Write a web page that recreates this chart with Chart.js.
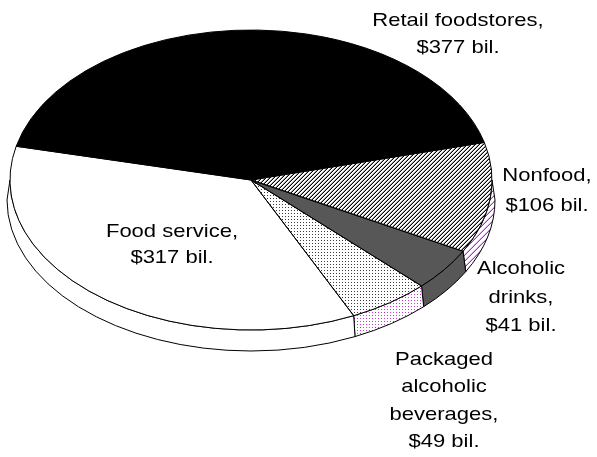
<!DOCTYPE html>
<html>
<head>
<meta charset="utf-8">
<script src="https://cdn.jsdelivr.net/npm/chart.js@4/dist/chart.umd.min.js"></script>
<style>
  html, body { margin: 0; padding: 0; background: #fff; overflow: hidden; }
  canvas { display: block; }
</style>
</head>
<body>
<canvas id="pie" width="597" height="457"></canvas>
<script>
// Food and beverage spending by outlet, $ billion
const categories = ['Retail foodstores', 'Nonfood', 'Alcoholic drinks', 'Packaged alcoholic beverages', 'Food service'];
const spending = [377, 106, 41, 49, 317];
// Label wording, one entry per line (value line is appended from the data)
const labelNames = [
  ['Retail foodstores,'],
  ['Nonfood,'],
  ['Alcoholic', 'drinks,'],
  ['Packaged', 'alcoholic', 'beverages,'],
  ['Food service,']
];

// Tilted-disc geometry (device pixels)
const FACE = { cx: 251, cy: 180, rx: 241, ry: 150 };
const SIDE = { dx: 0, dy: 20, grow: 3 };
// Label placement: centre x, first baseline y, line spacing
const LABEL_POS = [
  { x: 458, y: 25.5, lh: 27.5 },
  { x: 547, y: 180.5, lh: 30 },
  { x: 521, y: 274, lh: 28.7 },
  { x: 444, y: 365, lh: 27.4 },
  { x: 172, y: 236.5, lh: 26.8 }
];
const FONT = '18.5px "Liberation Sans", Arial, sans-serif';
const TEXT_STRETCH = 1.19;

// Pixel tiles: 'k' ink, 'g' soft ink, '.' paper
function tile(rows, ink, soft) {
  const h = rows.length, w = rows[0].length;
  const c = document.createElement('canvas');
  c.width = w; c.height = h;
  const g = c.getContext('2d');
  g.fillStyle = '#fff';
  g.fillRect(0, 0, w, h);
  rows.forEach((row, y) => {
    [...row].forEach((ch, x) => {
      if (ch === 'k') { g.fillStyle = ink; g.fillRect(x, y, 1, 1); }
      if (ch === 'g') { g.fillStyle = soft; g.fillRect(x, y, 1, 1); }
    });
  });
  return g.createPattern(c, 'repeat');
}

const topHatch = tile([
  '..gk',
  '.gk.',
  'gk..',
  'k..g'
], '#000', '#9a9a9a');
const topDots = tile([
  'k..',
  '...',
  '...'
], '#3c3c3c', '#000');
const sideHatch = tile([
  '....gk',
  '...gk.',
  '..gk..',
  '.gk...',
  'gk....',
  'k....g'
], '#a030c8', '#e0b8ee');
const sideDots = tile([
  'k..',
  '...',
  '...'
], '#c03cc8', '#000');

const facePatterns = [topHatch, topDots];
const faceFill = ['#000000', topHatch, '#575757', topDots, '#ffffff'];
const sideFill = ['#000000', sideHatch, '#575757', sideDots, '#ffffff'];

const tiltedPie = {
  id: 'tiltedPie',
  beforeDatasetsDraw(chart) {
    const ctx = chart.ctx;
    const arcs = chart.getDatasetMeta(0).data;
    const ref = arcs[0];
    const sx = FACE.rx / ref.outerRadius, sy = FACE.ry / ref.outerRadius;
    const bx = FACE.cx + SIDE.dx, by = FACE.cy + SIDE.dy;
    const brx = FACE.rx + SIDE.grow, bry = FACE.ry + 1;

    // rim of the disc: only the front half (screen angles 0..PI) is visible
    ctx.save();
    ctx.lineWidth = 1;
    ctx.strokeStyle = '#000';
    arcs.forEach((arc, i) => {
      for (let k = -1; k <= 1; k++) {
        const lo = Math.max(arc.startAngle, 2 * Math.PI * k);
        const hi = Math.min(arc.endAngle, 2 * Math.PI * k + Math.PI);
        if (hi <= lo) continue;
        ctx.beginPath();
        ctx.ellipse(FACE.cx, FACE.cy, FACE.rx, FACE.ry, 0, lo, hi);
        ctx.ellipse(bx, by, brx, bry, 0, hi, lo, true);
        ctx.closePath();
        ctx.fillStyle = sideFill[i];
        ctx.fill();
        ctx.stroke();
      }
    });
    ctx.restore();

    // squash the round pie into the tilted top face
    ctx.save();
    ctx.translate(FACE.cx, FACE.cy);
    ctx.scale(sx, sy);
    ctx.translate(-ref.x, -ref.y);
    // keep the fill textures aligned to the device pixel grid
    const inv = ctx.getTransform().inverse();
    facePatterns.forEach(p => p.setTransform(inv));
  },
  afterDatasetsDraw(chart) {
    const ctx = chart.ctx;
    ctx.restore();
    const arcs = chart.getDatasetMeta(0).data;

    // slice outlines on the top face
    ctx.save();
    ctx.lineWidth = 1;
    ctx.strokeStyle = '#000';
    ctx.lineJoin = 'round';
    arcs.forEach(arc => {
      ctx.beginPath();
      ctx.moveTo(FACE.cx, FACE.cy);
      ctx.ellipse(FACE.cx, FACE.cy, FACE.rx, FACE.ry, 0, arc.startAngle, arc.endAngle);
      ctx.closePath();
      ctx.stroke();
    });

    // slice labels
    ctx.fillStyle = '#000';
    ctx.font = FONT;
    ctx.textAlign = 'center';
    ctx.textBaseline = 'alphabetic';
    labelNames.forEach((name, i) => {
      const lines = name.concat(['$' + spending[i] + ' bil.']);
      const p = LABEL_POS[i];
      lines.forEach((line, j) => {
        ctx.save();
        ctx.translate(p.x, p.y + j * p.lh);
        ctx.scale(TEXT_STRETCH, 1);
        ctx.fillText(line, 0, 0);
        ctx.restore();
      });
    });
    ctx.restore();
  }
};

new Chart(document.getElementById('pie'), {
  type: 'pie',
  data: {
    labels: categories,
    datasets: [{
      data: spending,
      backgroundColor: faceFill,
      borderWidth: 0,
      clip: false
    }]
  },
  options: {
    responsive: false,
    animation: false,
    rotation: -77,
    layout: { padding: 0 },
    events: [],
    plugins: {
      legend: { display: false },
      tooltip: { enabled: false }
    }
  },
  plugins: [tiltedPie]
});
</script>
</body>
</html>
